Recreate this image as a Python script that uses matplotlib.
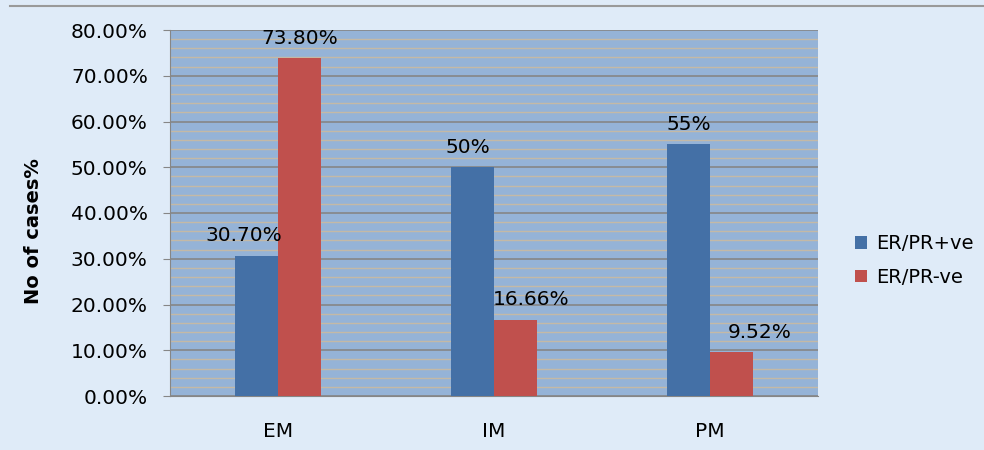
import matplotlib.pyplot as plt
import numpy as np
from matplotlib.ticker import MultipleLocator, FuncFormatter

categories = ['EM', 'IM', 'PM']
er_pos = [30.70, 50, 55]
er_neg = [73.80, 16.66, 9.52]
pos_labels = ['30.70%', '50%', '55%']
neg_labels = ['73.80%', '16.66%', '9.52%']

x = np.arange(len(categories))
width = 0.2

fig = plt.figure(figsize=(9.84, 4.5), dpi=100, facecolor='#DFEBF8')
ax = fig.add_axes([170/984, 1 - 396/450, 648/984, 366/450])
ax.set_facecolor('#95B3D7')

b1 = ax.bar(x - width/2, er_pos, width, color='#4470A6', label='ER/PR+ve', zorder=3)
b2 = ax.bar(x + width/2, er_neg, width, color='#C0504D', label='ER/PR-ve', zorder=3)

# label nudges (in category units) to mimic the original placement
pos_dx = [-0.06, -0.02, 0.0]
neg_dx = [0.0, 0.07, 0.13]
for i in range(len(categories)):
    ax.text(x[i] - width/2 + pos_dx[i], er_pos[i] + 2.3, pos_labels[i],
            ha='center', va='bottom', fontsize=14.5, zorder=4)
    ax.text(x[i] + width/2 + neg_dx[i], er_neg[i] + 2.3, neg_labels[i],
            ha='center', va='bottom', fontsize=14.5, zorder=4)

ax.set_xlim(-0.5, 2.5)
ax.set_ylim(0, 80)
ax.yaxis.set_major_locator(MultipleLocator(10))
ax.yaxis.set_minor_locator(MultipleLocator(2))
ax.yaxis.set_major_formatter(FuncFormatter(lambda v, p: f'{v:.2f}%'))
ax.grid(which='major', axis='y', color='#868686', lw=1.2, zorder=1)
ax.grid(which='minor', axis='y', color='#C4B9A6', lw=1.0, zorder=1)
ax.tick_params(axis='y', which='major', labelsize=14.5, length=5, pad=11,
               color='#868686')
ax.tick_params(axis='y', which='minor', length=0)
ax.set_xticks(x)
ax.set_xticklabels(categories, fontsize=14.5)
ax.tick_params(axis='x', length=0, pad=19)
for s in ['top', 'right']:
    ax.spines[s].set_visible(False)
ax.spines['left'].set_color('#868686')
ax.spines['bottom'].set_color('#868686')

ax.set_ylabel('No of cases%', fontsize=14, fontweight='bold')
ax.yaxis.set_label_coords(-0.196, 0.45)

ax.legend(loc='center left', bbox_to_anchor=(1.03, 0.37), frameon=False,
          fontsize=14, handlelength=0.6, handleheight=0.6, handletextpad=0.5,
          labelspacing=0.75)

fig.add_artist(plt.Line2D([0.01, 1], [1 - 6/450, 1 - 6/450], color='#9A9A9A', lw=1.5))

fig.savefig('out.png', dpi=100, facecolor=fig.get_facecolor())
